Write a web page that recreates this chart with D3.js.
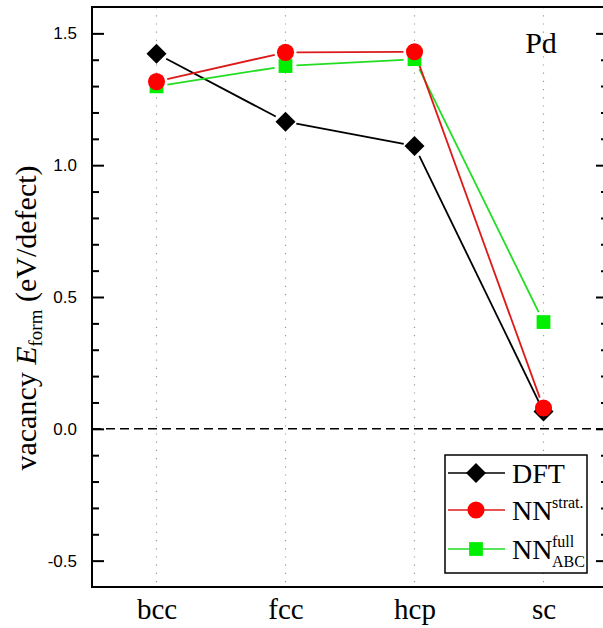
<!DOCTYPE html>
<html>
<head>
<meta charset="utf-8">
<script src="https://cdn.jsdelivr.net/npm/d3@7"></script>
<style>
  body { margin: 0; background: #fff; }
  svg { display: block; }
</style>
</head>
<body>
<svg width="603" height="628"></svg>
<script>
// structures and vacancy formation energies (eV/defect)
var structures = ["bcc", "fcc", "hcp", "sc"];
var dft = [1.423, 1.165, 1.073, 0.066];
var nnStrat = [1.317, 1.428, 1.430, 0.079];
var nnFull = [1.299, 1.376, 1.402, 0.405];
var yTicks = [-0.5, 0.0, 0.5, 1.0, 1.5];
var yMinor = [-0.4, -0.3, -0.2, -0.1, 0.1, 0.2, 0.3, 0.4, 0.6, 0.7, 0.8, 0.9, 1.1, 1.2, 1.3, 1.4];

var svg = d3.select("svg"),
    plotLeft = 92, plotRight = 608, plotTop = 7, plotBottom = 587;

var x = d3.scaleLinear()
    .domain([-0.5, structures.length - 0.5])
    .range([plotLeft, plotRight]);

var y = d3.scaleLinear()
    .domain([-0.6, 1.6])
    .range([plotBottom, plotTop]);

var serif = "'Liberation Serif', 'Times New Roman', serif";
var sans = "'Liberation Sans', Arial, sans-serif";

// dotted guide lines at each structure
svg.append("g")
  .selectAll("line")
  .data(structures)
  .enter().append("line")
    .attr("x1", function(d, i) { return x(i); })
    .attr("x2", function(d, i) { return x(i); })
    .attr("y1", plotTop)
    .attr("y2", plotBottom)
    .attr("stroke", "#999")
    .attr("stroke-width", 1.2)
    .attr("stroke-dasharray", "1.2,7");

// zero line
svg.append("line")
    .attr("x1", plotLeft)
    .attr("x2", plotRight)
    .attr("y1", y(0))
    .attr("y2", y(0))
    .attr("stroke", "#000")
    .attr("stroke-width", 1.5)
    .attr("stroke-dasharray", "9,5");

// left axis, ticks pointing inward
var yAxis = svg.append("g")
    .attr("transform", "translate(" + plotLeft + ",0)")
    .call(d3.axisLeft(y).tickValues(yTicks).tickSize(-12).tickPadding(15)
      .tickFormat(d3.format(".1f")));
yAxis.select(".domain").remove();
yAxis.selectAll("line").attr("stroke-width", 2);
yAxis.selectAll("text")
    .attr("font-family", sans)
    .attr("font-size", 17)
    .attr("fill", "#000")
    .text(function(d) { return d < 0 ? "-" + Math.abs(d).toFixed(1) : d.toFixed(1); });

var yMinorAxis = svg.append("g")
    .attr("transform", "translate(" + plotLeft + ",0)")
    .call(d3.axisLeft(y).tickValues(yMinor).tickSize(-7).tickFormat(""));
yMinorAxis.select(".domain").remove();
yMinorAxis.selectAll("line").attr("stroke-width", 2);

// right axis mirror
var yRight = svg.append("g")
    .attr("transform", "translate(" + plotRight + ",0)")
    .call(d3.axisRight(y).tickValues(yTicks).tickSize(-12).tickFormat(""));
yRight.select(".domain").remove();
yRight.selectAll("line").attr("stroke-width", 2);
var yRightMinor = svg.append("g")
    .attr("transform", "translate(" + plotRight + ",0)")
    .call(d3.axisRight(y).tickValues(yMinor).tickSize(-7).tickFormat(""));
yRightMinor.select(".domain").remove();
yRightMinor.selectAll("line").attr("stroke-width", 2);

// bottom labels
var xAxis = svg.append("g")
    .attr("transform", "translate(0," + plotBottom + ")")
    .call(d3.axisBottom(x).tickValues(d3.range(structures.length)).tickSize(0).tickPadding(11)
      .tickFormat(function(i) { return structures[i]; }));
xAxis.select(".domain").remove();
xAxis.selectAll("text")
    .attr("font-family", serif)
    .attr("font-size", 29)
    .attr("fill", "#000");

// frame
svg.append("rect")
    .attr("x", plotLeft)
    .attr("y", plotTop)
    .attr("width", plotRight - plotLeft)
    .attr("height", plotBottom - plotTop)
    .attr("fill", "none")
    .attr("stroke", "#000")
    .attr("stroke-width", 2);

// series
var series = [
  {name: "DFT", values: dft, color: "#000000", line: "#000", symbol: "diamond"},
  {name: "NNfull", values: nnFull, color: "#00ee00", line: "#22dd22", symbol: "square"},
  {name: "NNstrat", values: nnStrat, color: "#ff0000", line: "#dd1a1a", symbol: "circle"}
];

function symbolPath(s) {
  if (s === "circle") return d3.symbol(d3.symbolCircle, 230)();
  return d3.symbol(d3.symbolSquare, s === "diamond" ? 200 : 190)();
}

// connecting segments, with a small gap at each symbol
var gap = 11;
series.forEach(function(s) {
  var segs = d3.pairs(s.values.map(function(v, i) { return [x(i), y(v)]; }));
  svg.append("g")
    .selectAll("line")
    .data(segs)
    .enter().append("line")
      .each(function(p) {
        var dx = p[1][0] - p[0][0], dy = p[1][1] - p[0][1],
            len = Math.sqrt(dx * dx + dy * dy),
            ux = dx / len, uy = dy / len;
        d3.select(this)
            .attr("x1", p[0][0] + ux * gap)
            .attr("y1", p[0][1] + uy * gap)
            .attr("x2", p[1][0] - ux * gap)
            .attr("y2", p[1][1] - uy * gap);
      })
      .attr("stroke", s.line)
      .attr("stroke-width", 1.8);
});

series.forEach(function(s) {
  svg.append("g")
    .selectAll("path")
    .data(s.values)
    .enter().append("path")
      .attr("transform", function(d, i) {
        return "translate(" + x(i) + "," + y(d) + ")" + (s.symbol === "diamond" ? " rotate(45)" : "");
      })
      .attr("d", symbolPath(s.symbol))
      .attr("fill", s.color);
});

// Pd label
svg.append("text")
    .attr("x", 541)
    .attr("y", 53)
    .attr("text-anchor", "middle")
    .attr("font-family", serif)
    .attr("font-size", 30)
    .text("Pd");

// y label
var ylab = svg.append("text")
    .attr("transform", "translate(36," + 318 + ") rotate(-90)")
    .attr("text-anchor", "middle")
    .attr("font-family", serif)
    .attr("font-size", 30);
ylab.append("tspan").text("vacancy ");
ylab.append("tspan").attr("font-style", "italic").text("E");
ylab.append("tspan").attr("font-size", 19).attr("dy", 6).text("form");
ylab.append("tspan").attr("dy", -6).text(" (eV/defect)");

// legend
var legend = svg.append("g").attr("transform", "translate(445,455)");
legend.append("rect")
    .attr("width", 142)
    .attr("height", 118)
    .attr("fill", "#fff")
    .attr("stroke", "#000")
    .attr("stroke-width", 1.5);

var legendItems = [
  {s: series[0], y: 18, label: "DFT"},
  {s: series[2], y: 55, label: "NN", sup: "strat."},
  {s: series[1], y: 94, label: "NN", sup: "full", sub: "ABC"}
];

legendItems.forEach(function(it) {
  var g = legend.append("g").attr("transform", "translate(0," + it.y + ")");
  g.append("line")
      .attr("x1", 3).attr("x2", 60)
      .attr("stroke", it.s.line)
      .attr("stroke-width", 1.5);
  g.append("path")
      .attr("transform", "translate(31,0)" + (it.s.symbol === "diamond" ? " rotate(45)" : ""))
      .attr("d", symbolPath(it.s.symbol))
      .attr("fill", it.s.color);
  g.append("text")
      .attr("x", 67)
      .attr("y", 10)
      .attr("font-family", serif)
      .attr("font-size", 28)
      .text(it.label);
  if (it.sup) {
    g.append("text")
        .attr("x", 107)
        .attr("y", -2)
        .attr("font-family", serif)
        .attr("font-size", 16)
        .text(it.sup);
  }
  if (it.sub) {
    g.append("text")
        .attr("x", 107)
        .attr("y", 18)
        .attr("font-family", serif)
        .attr("font-size", 16)
        .text(it.sub);
  }
});
</script>
</body>
</html>
